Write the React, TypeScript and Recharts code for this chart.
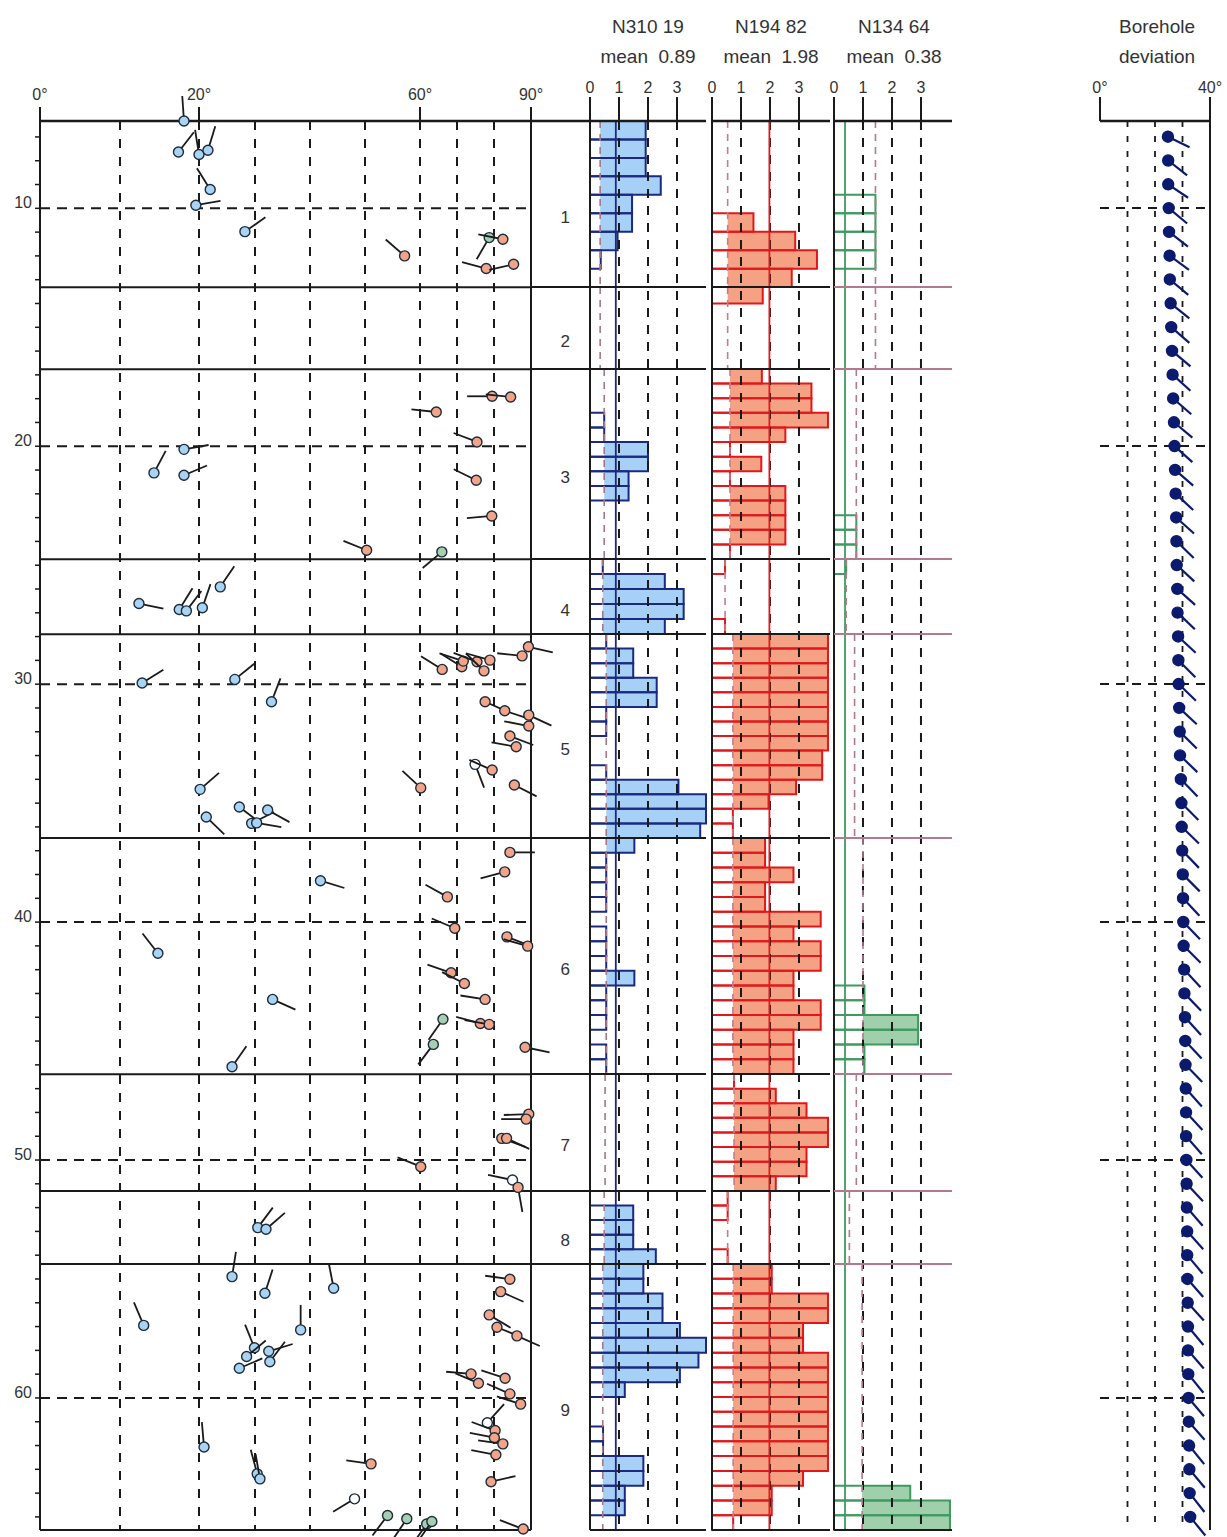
import React from 'react';
import { ComposedChart, Scatter, XAxis, YAxis, ReferenceLine, ReferenceArea } from 'recharts';

const FONT = "'Liberation Sans Narrow', 'Liberation Sans', Arial, sans-serif";
const INK = '#1a1a1a';
const TEXT = '#333';

// depth (m), shared by every track
const DEPTH_TOP = 6.34;
const DEPTH_BOTTOM = 65.55;
const ZONE_EDGES = [6.34, 13.32, 16.76, 24.75, 27.9, 36.47, 46.39, 51.3, 54.37, 65.55];
const ZONE_NAMES = ['1', '2', '3', '4', '5', '6', '7', '8', '9'];
const DEPTH_LABELS = [10, 20, 30, 40, 50, 60];
const METRE_TICKS = [7, 8, 9, 10, 11, 12, 13, 14, 15, 16, 17, 18, 19, 20, 21, 22, 23, 24, 25, 26, 27, 28, 29, 30,
  31, 32, 33, 34, 35, 36, 37, 38, 39, 40, 41, 42, 43, 44, 45, 46, 47, 48, 49, 50, 51, 52, 53, 54, 55, 56, 57, 58,
  59, 60, 61, 62, 63, 64, 65];

// dip track uses a stretched (non linear) dip scale
const DIP_TICKS = [0, 20, 60, 90];
const DIP_GRID = [10, 20, 30, 40, 50, 60, 70, 80];
const DIP_BREAKS = [0, 10, 20, 30, 40, 50, 60, 70, 80, 90];
const DIP_SCALE = [0, 80, 159, 215, 270, 325, 380, 417, 454, 491];

// tadpoles: [depth, dip, azimuth]
const BLUE = [
  [6.33, 18.1, 356], [7.63, 17.4, 38], [7.74, 20.0, 351], [7.56, 21.6, 17], [9.21, 22.0, 328], [9.87, 19.6, 80],
  [10.98, 28.2, 55], [20.13, 18.1, 80], [21.12, 14.3, 28], [21.22, 18.1, 67], [26.61, 12.4, 102], [26.86, 17.5, 32],
  [26.92, 18.4, 37], [26.79, 20.6, 19], [25.91, 23.8, 34], [29.95, 12.8, 58], [29.8, 26.4, 51], [30.74, 33.0, 21],
  [34.42, 20.2, 49], [35.58, 21.3, 134], [35.16, 27.2, 127], [35.85, 29.4, 63], [35.83, 30.3, 100], [35.29, 32.3, 119],
  [38.26, 41.9, 107], [41.31, 14.8, 322], [43.25, 33.2, 114], [46.08, 25.9, 35], [52.84, 30.5, 37], [52.91, 32.0, 49],
  [54.9, 25.9, 9], [55.6, 31.8, 18], [55.39, 44.3, 349], [56.95, 13.0, 337], [57.14, 38.3, 0], [57.89, 29.9, 338],
  [58.26, 28.5, 50], [58.75, 27.2, 67], [58.04, 32.5, 73], [58.48, 32.7, 37], [62.06, 20.9, 355], [63.19, 30.4, 345],
  [63.4, 30.9, 350],
];
const ORANGE = [
  [12.0, 57.2, 311], [11.3, 82.4, 281], [12.53, 77.9, 285], [12.35, 85.3, 257], [17.9, 79.5, 270], [17.93, 84.5, 276],
  [18.56, 64.4, 276], [19.82, 75.4, 291], [21.43, 75.2, 296], [22.93, 79.4, 265], [24.37, 50.3, 292],
  [28.43, 89.3, 103], [28.81, 87.6, 276], [29.38, 66.0, 302], [29.27, 71.3, 302], [29.03, 71.7, 288], [29.06, 75.4, 291],
  [29.44, 77.3, 314], [28.99, 78.9, 286], [30.74, 77.6, 114], [31.12, 82.9, 108], [31.3, 89.4, 115], [31.76, 89.4, 281],
  [32.18, 84.3, 111], [32.63, 86.0, 280], [33.61, 79.5, 294], [34.36, 60.2, 313], [34.24, 85.5, 117],
  [37.07, 84.3, 90], [37.89, 82.9, 255], [38.94, 67.4, 299], [40.26, 69.4, 293], [40.62, 83.5, 111], [41.01, 89.1, 286],
  [42.13, 68.4, 289], [42.58, 72.0, 297], [43.25, 77.6, 279], [44.26, 76.3, 285], [44.3, 78.7, 280], [45.26, 88.4, 102],
  [48.07, 89.4, 268], [48.28, 88.7, 270], [49.09, 82.1, 110], [49.09, 83.4, 115], [50.28, 60.2, 292], [51.15, 86.5, 170],
  [55.01, 84.3, 278], [55.53, 81.8, 114], [56.51, 78.7, 121], [57.03, 80.8, 112], [57.39, 86.2, 114],
  [58.99, 73.8, 275], [59.17, 83.0, 288], [59.38, 75.8, 293], [59.83, 84.3, 294], [60.26, 87.2, 288], [61.37, 80.3, 290],
  [61.67, 80.1, 281], [61.93, 82.4, 278], [62.39, 80.5, 281], [62.77, 51.1, 278], [63.52, 79.2, 77], [65.51, 87.9, 291],
];
const GREEN = [
  [11.23, 78.7, 210], [24.44, 65.9, 230], [44.08, 66.2, 215], [45.14, 63.6, 217], [64.94, 54.1, 217],
  [65.08, 57.6, 214], [65.3, 61.8, 215], [65.19, 63.2, 215],
];
const OPEN = [[33.37, 74.9, 159], [50.84, 85.0, 282], [61.04, 78.2, 42], [64.24, 48.1, 239]];

// histogram tracks: values per bin, one list per zone
const HIST_TICKS = [0, 1, 2, 3];
const HIST_GRID = [1, 2, 3];

const N310_MEAN = 0.89;
const N310_THR = [0.35, 0.35, 0.49, 0.44, 0.56, 0.56, 0.52, 0.49, 0.44];
const N310_BINS = [
  [1.92, 1.92, 1.92, 2.44, 1.45, 1.45, 0.95, 0.37, 0],
  [0, 0, 0, 0, 0],
  [0, 0, 0, 0.49, 0.49, 2.0, 2.0, 1.33, 1.33, 0, 0, 0, 0],
  [0.44, 2.58, 3.23, 3.23, 2.58],
  [0.56, 1.49, 1.49, 2.3, 2.3, 0.56, 0.56, 0, 0, 0.56, 3.05, 4.0, 4.0, 3.8],
  [1.53, 0.56, 0.56, 0.56, 0.56, 0, 0.56, 0.56, 0.56, 1.53, 0.56, 0.56, 0.56, 0, 0.56, 0.56],
  [0, 0, 0, 0, 0, 0, 0, 0],
  [0, 1.49, 1.49, 1.49, 2.27],
  [1.84, 1.84, 2.5, 2.5, 3.1, 4.0, 3.74, 3.1, 1.2, 0, 0, 0.45, 0.45, 1.84, 1.84, 1.2, 1.2, 0],
];

const N194_MEAN = 1.98;
const N194_THR = [0.54, 0.54, 0.62, 0.45, 0.72, 0.72, 0.76, 0.54, 0.73];
const N194_BINS = [
  [0, 0, 0, 0, 0, 1.43, 2.87, 3.62, 2.75],
  [1.75, 0, 0, 0, 0],
  [1.72, 3.43, 3.43, 4.0, 2.53, 0.62, 1.7, 0.62, 2.53, 2.53, 2.53, 2.53, 0.62],
  [0.45, 0, 0, 0, 0.45],
  [4.0, 4.0, 4.0, 4.0, 4.0, 4.0, 4.0, 4.0, 3.8, 3.8, 2.9, 1.95, 0.72, 0.72],
  [1.83, 1.83, 2.81, 1.83, 1.83, 3.75, 2.81, 3.75, 3.75, 2.81, 2.81, 3.75, 3.75, 2.81, 2.81, 2.81],
  [0.76, 2.2, 3.26, 4.0, 4.0, 3.26, 3.26, 2.2],
  [0.54, 0.54, 0, 0, 0.54],
  [2.06, 2.06, 4.0, 4.0, 3.14, 3.14, 4.0, 4.0, 4.0, 4.0, 4.0, 4.0, 4.0, 4.0, 3.14, 2.06, 2.06, 0.73],
];

const N134_MEAN = 0.38;
const N134_THR = [1.43, 1.43, 0.77, 0.42, 0.71, 1.0, 0.77, 0.53, 0.97];
const N134_BINS = [
  [0, 0, 0, 0, 1.43, 1.43, 1.43, 1.43, 0],
  [0, 0, 0, 0, 0],
  [0, 0, 0, 0, 0, 0, 0, 0, 0, 0, 0.77, 0.77, 0.77],
  [0.42, 0, 0, 0, 0],
  [0, 0, 0, 0, 0, 0, 0, 0, 0, 0, 0, 0, 0, 0],
  [0, 0, 0, 0, 0, 0, 0, 0, 0, 0, 1.05, 1.05, 2.9, 2.9, 1.05, 1.05],
  [0, 0, 0, 0, 0, 0, 0, 0],
  [0, 0, 0, 0, 0],
  [0, 0, 0, 0, 0, 0, 0, 0, 0, 0, 0, 0, 0, 0, 0, 2.63, 4.0, 4.0],
];

// borehole deviation, one reading per metre
const DEV_TICKS = [0, 40];
const DEV_GRID = [10, 20, 30];
const DEV_DEPTH = [7, 8, 9, 10, 11, 12, 13, 14, 15, 16, 17, 18, 19, 20, 21, 22, 23, 24, 25, 26, 27, 28, 29, 30, 31,
  32, 33, 34, 35, 36, 37, 38, 39, 40, 41, 42, 43, 44, 45, 46, 47, 48, 49, 50, 51, 52, 53, 54, 55, 56, 57, 58, 59, 60,
  61, 62, 63, 64, 65];
const DEV_DIP = [24.7, 24.8, 24.8, 25.0, 25.1, 25.3, 25.4, 25.7, 25.9, 26.2, 26.4, 26.6, 26.9, 27.1, 27.3, 27.5, 27.7,
  27.8, 27.9, 28.1, 28.2, 28.4, 28.5, 28.6, 28.8, 29.0, 29.1, 29.4, 29.6, 29.7, 29.9, 30.1, 30.2, 30.3, 30.4, 30.6,
  30.7, 30.9, 31.0, 31.1, 31.2, 31.3, 31.3, 31.4, 31.5, 31.6, 31.7, 31.7, 31.8, 31.9, 32.0, 32.0, 32.1, 32.2, 32.3,
  32.4, 32.5, 32.6, 32.8];
const DEV_AZ = [116, 128, 124, 130, 128, 126, 130, 129, 131, 130, 132, 131, 130, 132, 131, 133, 132, 134, 133, 132,
  134, 133, 135, 134, 133, 135, 134, 136, 135, 134, 136, 135, 137, 136, 135, 137, 136, 138, 137, 136, 138, 137, 139,
  138, 137, 139, 138, 140, 139, 138, 140, 139, 141, 140, 139, 141, 140, 142, 141];

const dipPos = (dip: number) => {
  for (let i = 1; i < DIP_BREAKS.length; i++) {
    if (dip <= DIP_BREAKS[i]) {
      const t = (dip - DIP_BREAKS[i - 1]) / (DIP_BREAKS[i] - DIP_BREAKS[i - 1]);
      return DIP_SCALE[i - 1] + t * (DIP_SCALE[i] - DIP_SCALE[i - 1]);
    }
  }
  return DIP_SCALE[DIP_SCALE.length - 1];
};

const toPoints = (rows: number[][]) => rows.map(([depth, dip, az]) => ({ depth, pos: dipPos(dip), az }));

const tadpole = (fill: string, tail = INK, r = 5, len = 25, edge = '#1d2b3a', tailWidth = 1.8) => (props: any) => {
  const { cx, cy, payload } = props;
  if (cx == null || cy == null) return <g />;
  const a = (payload.az * Math.PI) / 180;
  return (
    <g>
      <line x1={cx} y1={cy} x2={cx + len * Math.sin(a)} y2={cy - len * Math.cos(a)} stroke={tail} strokeWidth={tailWidth} />
      <circle cx={cx} cy={cy} r={r} fill={fill} stroke={edge} strokeWidth={1.4} />
    </g>
  );
};

const DepthTick = (props: any) => {
  const { x, y, payload } = props;
  if (!DEPTH_LABELS.includes(payload.value)) return <g />;
  return (
    <text x={x} y={y} textAnchor="end" fontSize={16} fill={TEXT} fontFamily={FONT}>
      {payload.value}
    </text>
  );
};

const NoTick = () => <g />;
const NoMark = () => <g />;

const axisLine = { stroke: INK, strokeWidth: 2.5 };
const tickLine = { stroke: INK, strokeWidth: 2 };
const tickText = { fill: TEXT, fontSize: 16, fontFamily: FONT };
const zoneEdges = ZONE_EDGES.slice(1, -1);

const DipTrack = () => (
  <div style={{ position: 'absolute', left: 0, top: 0 }}>
    <ComposedChart width={560} height={1545} margin={{ top: 81, right: 9, bottom: 15, left: 10 }}>
      <XAxis
        type="number"
        dataKey="pos"
        orientation="top"
        domain={[0, DIP_SCALE[DIP_SCALE.length - 1]]}
        ticks={DIP_TICKS.map(dipPos)}
        interval={0}
        tickFormatter={(_v: number, i: number) => `${DIP_TICKS[i]}°`}
        height={40}
        tickSize={14}
        tickMargin={7}
        axisLine={axisLine}
        tickLine={tickLine}
        tick={tickText}
      />
      <YAxis
        type="number"
        dataKey="depth"
        domain={[DEPTH_TOP, DEPTH_BOTTOM]}
        reversed
        ticks={METRE_TICKS}
        interval={0}
        width={30}
        tickSize={5}
        tickMargin={3}
        axisLine={{ stroke: INK, strokeWidth: 2 }}
        tickLine={{ stroke: INK, strokeWidth: 1.5 }}
        tick={DepthTick}
      />
      <YAxis
        yAxisId="r"
        orientation="right"
        type="number"
        domain={[DEPTH_TOP, DEPTH_BOTTOM]}
        reversed
        ticks={METRE_TICKS}
        interval={0}
        width={20}
        tickSize={5}
        axisLine={{ stroke: INK, strokeWidth: 2 }}
        tickLine={{ stroke: INK, strokeWidth: 1.5 }}
        tick={NoTick}
      />
      {DIP_GRID.map((d) => (
        <ReferenceLine key={`v${d}`} x={dipPos(d)} stroke={INK} strokeWidth={2} strokeDasharray="9 9" />
      ))}
      {DEPTH_LABELS.map((d) => (
        <ReferenceLine key={`h${d}`} y={d} stroke={INK} strokeWidth={2} strokeDasharray="10 7" />
      ))}
      {zoneEdges.map((e) => (
        <ReferenceLine key={`z${e}`} y={e} stroke={INK} strokeWidth={2} />
      ))}
      <ReferenceLine y={DEPTH_BOTTOM} stroke={INK} strokeWidth={2} />
      <Scatter data={toPoints(BLUE)} shape={tadpole('#a9d3f2')} isAnimationActive={false} />
      <Scatter data={toPoints(GREEN)} shape={tadpole('#a6cfb2')} isAnimationActive={false} />
      <Scatter data={toPoints(OPEN)} shape={tadpole('#ffffff')} isAnimationActive={false} />
      <Scatter data={toPoints(ORANGE)} shape={tadpole('#f1a487')} isAnimationActive={false} />
    </ComposedChart>
  </div>
);

const zoneLabels = ZONE_NAMES.map((name, i) => ({ x: 0.57, depth: (ZONE_EDGES[i] + ZONE_EDGES[i + 1]) / 2, name }));

const ZoneLabel = (props: any) => {
  const { cx, cy, payload } = props;
  return (
    <text x={cx} y={cy + 19} textAnchor="middle" fontSize={17} fill={TEXT} fontFamily={FONT}>
      {payload.name}
    </text>
  );
};

const ZoneColumn = () => (
  <div style={{ position: 'absolute', left: 531, top: 0 }}>
    <ComposedChart width={60} height={1545} margin={{ top: 81, right: 0, bottom: 15, left: 0 }}>
      <XAxis type="number" dataKey="x" orientation="top" domain={[0, 1]} height={40} tick={false} tickLine={false} axisLine={axisLine} />
      <YAxis type="number" dataKey="depth" domain={[DEPTH_TOP, DEPTH_BOTTOM]} reversed hide />
      {zoneEdges.map((e) => (
        <ReferenceLine key={`z${e}`} y={e} stroke={INK} strokeWidth={2} />
      ))}
      <Scatter data={zoneLabels} shape={ZoneLabel} isAnimationActive={false} />
    </ComposedChart>
  </div>
);

type HistProps = {
  left: number;
  width: number;
  max: number;
  bins: number[][];
  thr: number[];
  mean: number;
  fill: string;
  stroke: string;
  meanColor: string;
  thrColor: string;
  zoneColor: string;
};

const HistTrack = ({ left, width, max, bins, thr, mean, fill, stroke, meanColor, thrColor, zoneColor }: HistProps) => {
  const fills: React.ReactNode[] = [];
  const boxes: React.ReactNode[] = [];
  const rows: { v: number; depth: number }[] = [];
  bins.forEach((zone, z) => {
    const top = ZONE_EDGES[z];
    const step = (ZONE_EDGES[z + 1] - top) / zone.length;
    zone.forEach((v, i) => {
      const y1 = top + i * step;
      const y2 = y1 + step;
      rows.push({ v, depth: (y1 + y2) / 2 });
      if (v <= 0) return;
      if (v > thr[z]) {
        fills.push(
          <ReferenceArea key={`f${z}-${i}`} x1={thr[z]} x2={v} y1={y1} y2={y2} fill={fill} fillOpacity={1} stroke="none" ifOverflow="visible" />
        );
      }
      boxes.push(
        <ReferenceArea key={`b${z}-${i}`} x1={0} x2={v} y1={y1} y2={y2} fill="none" fillOpacity={0} stroke={stroke} strokeWidth={2} ifOverflow="visible" />
      );
    });
  });

  return (
    <div style={{ position: 'absolute', left: left - 15, top: 0 }}>
      <ComposedChart width={width + 30} height={1545} margin={{ top: 81, right: 15, bottom: 15, left: 15 }}>
        <XAxis
          type="number"
          dataKey="v"
          orientation="top"
          domain={[0, max]}
          allowDataOverflow
          ticks={HIST_TICKS}
          interval={0}
          height={40}
          tickSize={24}
          tickMargin={4}
          axisLine={axisLine}
          tickLine={tickLine}
          tick={tickText}
        />
        <YAxis type="number" dataKey="depth" domain={[DEPTH_TOP, DEPTH_BOTTOM]} reversed hide allowDataOverflow />
        {HIST_GRID.map((g) => (
          <ReferenceLine key={`g${g}`} x={g} stroke={INK} strokeWidth={2} strokeDasharray="9 8" />
        ))}
        <ReferenceLine x={mean} stroke={meanColor} strokeWidth={1.8} />
        {thr.map((t, z) => (
          <ReferenceLine
            key={`t${z}`}
            segment={[{ x: t, y: ZONE_EDGES[z] }, { x: t, y: ZONE_EDGES[z + 1] }]}
            stroke={thrColor}
            strokeWidth={1.6}
            strokeDasharray="7 6"
          />
        ))}
        {fills}
        {boxes}
        <ReferenceLine x={0} stroke={INK} strokeWidth={2} />
        {zoneEdges.map((e) => (
          <ReferenceLine key={`z${e}`} y={e} stroke={zoneColor} strokeWidth={2} />
        ))}
        <ReferenceLine y={DEPTH_BOTTOM} stroke={INK} strokeWidth={2} />
        <Scatter data={rows} shape={NoMark} isAnimationActive={false} />
      </ComposedChart>
    </div>
  );
};

const devPoints = DEV_DEPTH.map((depth, i) => ({ depth, dev: DEV_DIP[i], az: DEV_AZ[i] }));

const DeviationTrack = () => (
  <div style={{ position: 'absolute', left: 1085, top: 0 }}>
    <ComposedChart width={142} height={1545} margin={{ top: 81, right: 17, bottom: 15, left: 15 }}>
      <XAxis
        type="number"
        dataKey="dev"
        orientation="top"
        domain={[0, 40]}
        ticks={DEV_TICKS}
        interval={0}
        tickFormatter={(v: number) => `${v}°`}
        height={40}
        tickSize={24}
        tickMargin={4}
        axisLine={axisLine}
        tickLine={tickLine}
        tick={tickText}
      />
      <YAxis
        type="number"
        dataKey="depth"
        domain={[DEPTH_TOP, DEPTH_BOTTOM]}
        reversed
        width={0}
        tick={false}
        tickLine={false}
        axisLine={{ stroke: INK, strokeWidth: 2 }}
      />
      {DEV_GRID.map((g) => (
        <ReferenceLine key={`g${g}`} x={g} stroke={INK} strokeWidth={1.8} strokeDasharray="6 9" />
      ))}
      {DEPTH_LABELS.map((d) => (
        <ReferenceLine key={`h${d}`} y={d} stroke={INK} strokeWidth={2} strokeDasharray="9 7" />
      ))}
      <ReferenceLine x={40} stroke={INK} strokeWidth={2} />
      <Scatter data={devPoints} shape={tadpole('#0c1a6e', '#0c1a6e', 5.5, 24, '#0c1a6e', 2.2)} isAnimationActive={false} />
    </ComposedChart>
  </div>
);

const headerStyle = (center: number): React.CSSProperties => ({
  position: 'absolute',
  left: center - 60,
  top: 12,
  width: 120,
  textAlign: 'center',
  fontFamily: FONT,
  fontSize: 19,
  lineHeight: '30px',
  color: TEXT,
  whiteSpace: 'pre',
});

const App = () => (
  <div style={{ position: 'absolute', left: 0, top: 0, width: 1227, height: 1537, background: '#fff' }}>
    <div style={headerStyle(648)}>{'N310 19\nmean  0.89'}</div>
    <div style={headerStyle(771)}>{'N194 82\nmean  1.98'}</div>
    <div style={headerStyle(894)}>{'N134 64\nmean  0.38'}</div>
    <div style={headerStyle(1157)}>{'Borehole\ndeviation'}</div>
    <DipTrack />
    <ZoneColumn />
    <HistTrack
      left={590}
      width={116}
      max={4.0}
      bins={N310_BINS}
      thr={N310_THR}
      mean={N310_MEAN}
      fill="#a6d0f5"
      stroke="#1b2a80"
      meanColor="#1b2a80"
      thrColor="#a47886"
      zoneColor={INK}
    />
    <HistTrack
      left={712}
      width={118}
      max={4.07}
      bins={N194_BINS}
      thr={N194_THR}
      mean={N194_MEAN}
      fill="#f4a283"
      stroke="#e0181b"
      meanColor="#e0181b"
      thrColor="#c07e8e"
      zoneColor={INK}
    />
    <HistTrack
      left={834}
      width={118}
      max={4.07}
      bins={N134_BINS}
      thr={N134_THR}
      mean={N134_MEAN}
      fill="#9fcfab"
      stroke="#3f9a5f"
      meanColor="#3f9a5f"
      thrColor="#b07a8c"
      zoneColor="#b47a8a"
    />
    <DeviationTrack />
  </div>
);

export default App;
